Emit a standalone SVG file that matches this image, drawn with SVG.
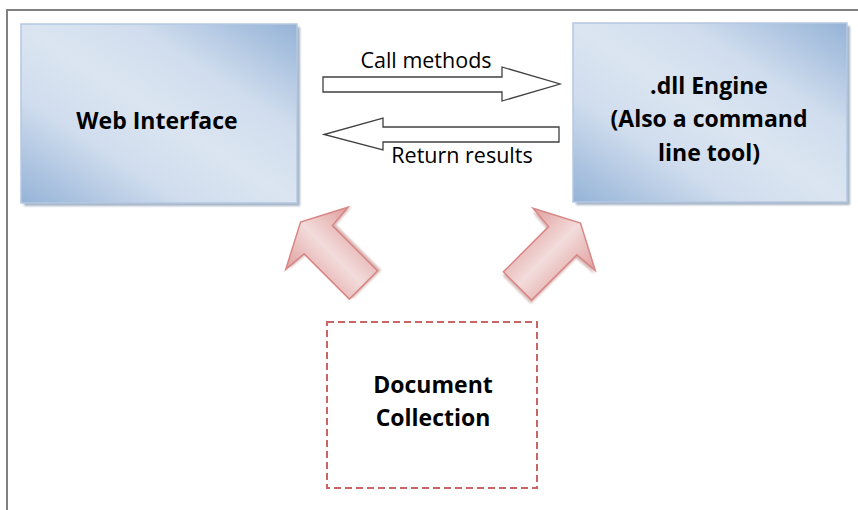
<svg xmlns="http://www.w3.org/2000/svg" width="858" height="510" viewBox="0 0 858 510">
<defs>
<linearGradient id="boxg" x1="0" y1="1" x2="1" y2="0">
<stop offset="0" stop-color="#95b3d7"/>
<stop offset="0.3" stop-color="#d0ddee"/>
<stop offset="0.5" stop-color="#dbe5f1"/>
<stop offset="0.7" stop-color="#d0ddee"/>
<stop offset="1" stop-color="#95b3d7"/>
</linearGradient>
<linearGradient id="pinkg" x1="0" y1="0" x2="1" y2="0">
<stop offset="0" stop-color="#e09f9e"/>
<stop offset="0.5" stop-color="#f2dcdb"/>
<stop offset="1" stop-color="#e09f9e"/>
</linearGradient>
<filter id="blur" x="-20%" y="-20%" width="140%" height="140%"><feGaussianBlur stdDeviation="1.2"/></filter>
</defs>
<style>
.frame{stroke:#808080;stroke-width:2;fill:none}
.box{fill:url(#boxg);stroke:#b4c8e2;stroke-width:1.5}
.shadow{fill:#7f93ab;opacity:0.7}
.lbl{font-family:"Open Sans","Liberation Sans",sans-serif;font-weight:bold;font-size:23px;fill:#000;text-anchor:middle}
.clbl{font-family:"Open Sans","Liberation Sans",sans-serif;font-size:21.5px;fill:#000;text-anchor:middle}
.flow{fill:#fff;stroke:#404040;stroke-width:1.3;stroke-linejoin:miter}
.big{fill:url(#pinkg);stroke:#d88785;stroke-width:1.5;stroke-linejoin:miter}
.bigsh{fill:#b07070;opacity:0.5}
.dash{fill:none;stroke:#c96565;stroke-width:2;stroke-dasharray:7 4}
</style>
<path class="frame" d="M7 510 V10 H858"/>
<g id="web-interface">
<rect class="shadow" x="24" y="27" width="276" height="179" filter="url(#blur)"/>
<rect class="box" x="21" y="24" width="276" height="179"/>
<text class="lbl" x="157" y="129">Web Interface</text>
</g>
<g id="dll-engine">
<rect class="shadow" x="576" y="26" width="274" height="179" filter="url(#blur)"/>
<rect class="box" x="573" y="23" width="274" height="179"/>
<text class="lbl" x="709" y="94">.dll Engine</text>
<text class="lbl" x="709" y="127">(Also a command</text>
<text class="lbl" x="709" y="161">line tool)</text>
</g>
<g id="document-collection">
<rect class="dash" x="327" y="322" width="210" height="166"/>
<text class="lbl" x="433" y="393">Document</text>
<text class="lbl" x="433" y="426">Collection</text>
</g>
<g id="connectors">
<g id="call-methods">
<polygon class="flow" points="323,77 502,77 502,67 560,84 502,101 502,92 323,92"/>
<text class="clbl" x="426" y="68">Call methods</text>
</g>
<g id="return-results">
<polygon class="flow" points="559,127 383,127 383,118 324,134.5 383,150 383,142 559,142"/>
<text class="clbl" x="462" y="163">Return results</text>
</g>
<g id="left-big-arrow" transform="translate(363.5,285) rotate(-45)">
<polygon class="bigsh" points="20,0 20,-64 44,-66 0,-89 -44,-66 -20,-64 -20,0" transform="translate(3,2)" filter="url(#blur)"/>
<polygon class="big" points="20,0 20,-64 44,-66 0,-89 -44,-66 -20,-64 -20,0"/>
</g>
<g id="right-big-arrow" transform="translate(517.5,286) rotate(45)">
<polygon class="bigsh" points="20,0 20,-64 44,-66 0,-89 -44,-66 -20,-64 -20,0" transform="translate(2,3)" filter="url(#blur)"/>
<polygon class="big" points="20,0 20,-64 44,-66 0,-89 -44,-66 -20,-64 -20,0"/>
</g>
</g>
</svg>
